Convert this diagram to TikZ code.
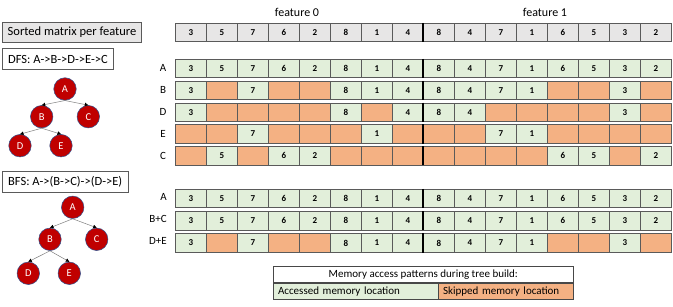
\documentclass[tikz,border=0pt]{standalone}
\usepackage{fontspec}
\setmainfont{Carlito}
\usetikzlibrary{arrows.meta}
\definecolor{ch}{HTML}{E7E6E6}
\definecolor{cg}{HTML}{E2EFDA}
\definecolor{co}{HTML}{F4B183}
\definecolor{cellline}{HTML}{5A5A5A}
\definecolor{treered}{HTML}{C00000}
\definecolor{treerim}{HTML}{2F528F}
\definecolor{edgegray}{HTML}{7F7F7F}
\newcommand\mkrow[3]{%
  \foreach \v/\f [count=\i from 0] in {#3}{%
    \pgfmathsetmacro\xx{175+31*\i}%
    \node[cellbox, fill=\f] (#1-\i) at (\xx,#2) {\v};
  }%
  \draw[divider] (#1-8.north west) -- (#1-8.south west);
}
\begin{document}
\begin{tikzpicture}[x=1pt,y=-1pt,
  cellbox/.style={draw=cellline, line width=0.6pt, minimum width=31pt, minimum height=18.5pt,
    inner sep=0pt, anchor=north west, font=\fontsize{9}{10}\selectfont\bfseries},
  divider/.style={line width=1.7pt, black},
  rowlab/.style={font=\fontsize{11}{13}\selectfont, inner sep=0pt},
  featlab/.style={font=\fontsize{12}{14}\selectfont, inner sep=0pt},
  leftbox/.style={draw=cellline, line width=0.6pt, inner sep=0pt, font=\fontsize{12.5}{14}\selectfont},
  tnode/.style={circle, fill=treered, draw=treerim, line width=0.5pt, minimum size=22.5pt,
    inner sep=0pt, text=white, font=\fontsize{10.5}{12}\selectfont},
  tedge/.style={draw=edgegray, line width=0.5pt, -{Triangle[length=3.5pt,width=3.5pt,color=black,fill=black]}},
  legbox/.style={draw=cellline!80!black, line width=0.6pt, inner sep=0pt, font=\fontsize{11}{13}\selectfont}
]
\useasboundingbox (0,0) rectangle (673,307);

% left boxes
\node[leftbox, fill=ch, minimum width=139pt, minimum height=20.5pt] (sorted) at (72,32.3) {Sorted matrix per feature};
\node[leftbox, fill=white, minimum width=111pt, minimum height=21pt] (dfs) at (58,59) {DFS: A->B->D->E->C};
\node[leftbox, fill=white, minimum width=126.5pt, minimum height=21pt] (bfs) at (65.2,182) {BFS: A->(B->C)->(D->E)};

% DFS tree
\node[tnode] (dA) at (65,89) {A};
\node[tnode] (dB) at (41.7,116.7) {B};
\node[tnode] (dC) at (88.3,116.7) {C};
\node[tnode] (dD) at (20,145.7) {D};
\node[tnode] (dE) at (61,145.7) {E};
\draw[tedge] (dA.south) -- (dB.north);
\draw[tedge] (dA.south) -- (dC.north);
\draw[tedge] (dB.south) -- (dD.north);
\draw[tedge] (dB.south) -- (dE.north);

% BFS tree
\node[tnode] (bA) at (72.7,207.3) {A};
\node[tnode] (bB) at (50,239.3) {B};
\node[tnode] (bC) at (96.7,239.3) {C};
\node[tnode] (bD) at (28.3,273.3) {D};
\node[tnode] (bE) at (69.3,273.3) {E};
\draw[tedge] (bA.south) -- (bB.north);
\draw[tedge] (bA.south) -- (bC.north);
\draw[tedge] (bB.south) -- (bD.north);
\draw[tedge] (bB.south) -- (bE.north);

% feature labels
\node[featlab] (f0) at (297,12) {feature 0};
\node[featlab] (f1) at (545,12) {feature 1};

% header row
\mkrow{H}{23}{3/ch,5/ch,7/ch,6/ch,2/ch,8/ch,1/ch,4/ch,8/ch,4/ch,7/ch,1/ch,6/ch,5/ch,3/ch,2/ch}

% DFS rows
\mkrow{A}{59}{3/cg,5/cg,7/cg,6/cg,2/cg,8/cg,1/cg,4/cg,8/cg,4/cg,7/cg,1/cg,6/cg,5/cg,3/cg,2/cg}
\mkrow{B}{81}{3/cg,{}/co,7/cg,{}/co,{}/co,8/cg,1/cg,4/cg,8/cg,4/cg,7/cg,1/cg,{}/co,{}/co,3/cg,{}/co}
\mkrow{D}{102.7}{3/cg,{}/co,{}/co,{}/co,{}/co,8/cg,{}/co,4/cg,8/cg,4/cg,{}/co,{}/co,{}/co,{}/co,3/cg,{}/co}
\mkrow{E}{124.5}{{}/co,{}/co,7/cg,{}/co,{}/co,{}/co,1/cg,{}/co,{}/co,{}/co,7/cg,1/cg,{}/co,{}/co,{}/co,{}/co}
\mkrow{C}{146.3}{{}/co,5/cg,{}/co,6/cg,2/cg,{}/co,{}/co,{}/co,{}/co,{}/co,{}/co,{}/co,6/cg,5/cg,{}/co,2/cg}

\node[rowlab] (lA) at (163,68.2) {A};
\node[rowlab] (lB) at (163,90.2) {B};
\node[rowlab] (lD) at (163,112) {D};
\node[rowlab] (lE) at (163,133.7) {E};
\node[rowlab] (lC) at (163,155.5) {C};

% BFS rows
\mkrow{A2}{189}{3/cg,5/cg,7/cg,6/cg,2/cg,8/cg,1/cg,4/cg,8/cg,4/cg,7/cg,1/cg,6/cg,5/cg,3/cg,2/cg}
\mkrow{BC}{211.3}{3/cg,5/cg,7/cg,6/cg,2/cg,8/cg,1/cg,4/cg,8/cg,4/cg,7/cg,1/cg,6/cg,5/cg,3/cg,2/cg}
\mkrow{DE}{233.5}{3/cg,{}/co,7/cg,{}/co,{}/co,8/cg,1/cg,4/cg,8/cg,4/cg,7/cg,1/cg,{}/co,{}/co,3/cg,{}/co}

\node[rowlab, anchor=east] (lA2) at (167,196.5) {A};
\node[rowlab, anchor=east] (lBC) at (167,218.5) {B+C};
\node[rowlab, anchor=east] (lDE) at (167,240.5) {D+E};

% legend
\node[legbox, fill=white, minimum width=300pt, minimum height=16.5pt, anchor=north west] (legtitle) at (273,266) {Memory access patterns during tree build:};
\node[legbox, fill=cg, minimum width=164.5pt, minimum height=16pt, anchor=north west, text width=155pt, align=left] (legacc) at (legtitle.south west) {Accessed memory location};
\node[legbox, fill=co, minimum width=135.5pt, minimum height=16pt, anchor=north east, text width=125pt, align=left] (legskp) at (legtitle.south east) {Skipped memory location};
\end{tikzpicture}
\end{document}
